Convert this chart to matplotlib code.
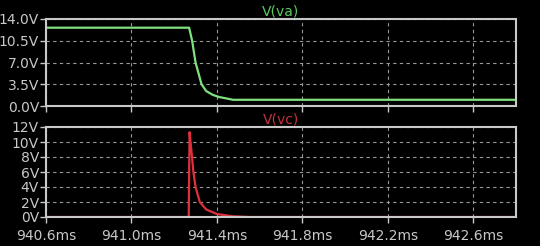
import matplotlib
matplotlib.use("Agg")
import matplotlib.pyplot as plt

# ==== data (time in ms, voltage in V) ====
t_va = [940.6, 941.27, 941.284, 941.30, 941.328, 941.35, 941.38, 941.41, 941.447, 941.475, 942.8]
va = [12.6, 12.6, 10.5, 7.0, 3.5, 2.4, 1.8, 1.45, 1.2, 1.0, 1.0]

t_vc = [940.6, 941.268, 941.272, 941.28, 941.29, 941.30, 941.32, 941.35, 941.40, 941.47, 941.55, 942.8]
vc = [0.0, 0.0, 11.3, 9.0, 6.0, 4.0, 2.0, 1.0, 0.4, 0.1, 0.0, 0.0]

x_ticks = [940.6, 941.0, 941.4, 941.8, 942.2, 942.6]
x_labels = ["940.6ms", "941.0ms", "941.4ms", "941.8ms", "942.2ms", "942.6ms"]
va_ticks = [0.0, 3.5, 7.0, 10.5, 14.0]
va_labels = ["0.0V", "3.5V", "7.0V", "10.5V", "14.0V"]
vc_ticks = [0, 2, 4, 6, 8, 10, 12]
vc_labels = ["0V", "2V", "4V", "6V", "8V", "10V", "12V"]

fg = "#c8c8c8"
green = "#7ee07e"
red = "#e0303c"

fig = plt.figure(figsize=(5.4, 2.46), dpi=100, facecolor="black")
ax1 = fig.add_axes([46 / 540, 1 - 106 / 246, 470 / 540, 87 / 246])
ax2 = fig.add_axes([46 / 540, 1 - 217 / 246, 470 / 540, 90 / 246])


def style(ax, yticks, ylabels, ylim, show_x):
    ax.set_facecolor("black")
    ax.set_xlim(940.6, 942.8)
    ax.set_ylim(*ylim)
    ax.set_xticks(x_ticks)
    ax.set_xticklabels(x_labels if show_x else [])
    ax.set_yticks(yticks)
    ax.set_yticklabels(ylabels)
    ax.tick_params(colors=fg, labelcolor=fg, labelsize=10, length=4, width=1)
    ax.tick_params(axis="y", pad=1)
    ax.tick_params(axis="x", pad=5)
    for s in ax.spines.values():
        s.set_color(fg)
        s.set_linewidth(1.5)
    ax.grid(True, color="#9a9a9a", linestyle=(0, (3, 3)), linewidth=0.8)
    ax.set_axisbelow(True)


style(ax1, va_ticks, va_labels, (0, 14), False)
style(ax2, vc_ticks, vc_labels, (0, 12), True)

ax1.plot(t_va, va, color=green, linewidth=1.6)
ax2.plot(t_vc, vc, color=red, linewidth=1.6)

ax1.set_title("V(va)", color="#5ec862", fontsize=10, pad=1)
ax2.set_title("V(vc)", color="#c8303c", fontsize=10, pad=1)

fig.savefig("out.png", dpi=100, facecolor="black")
